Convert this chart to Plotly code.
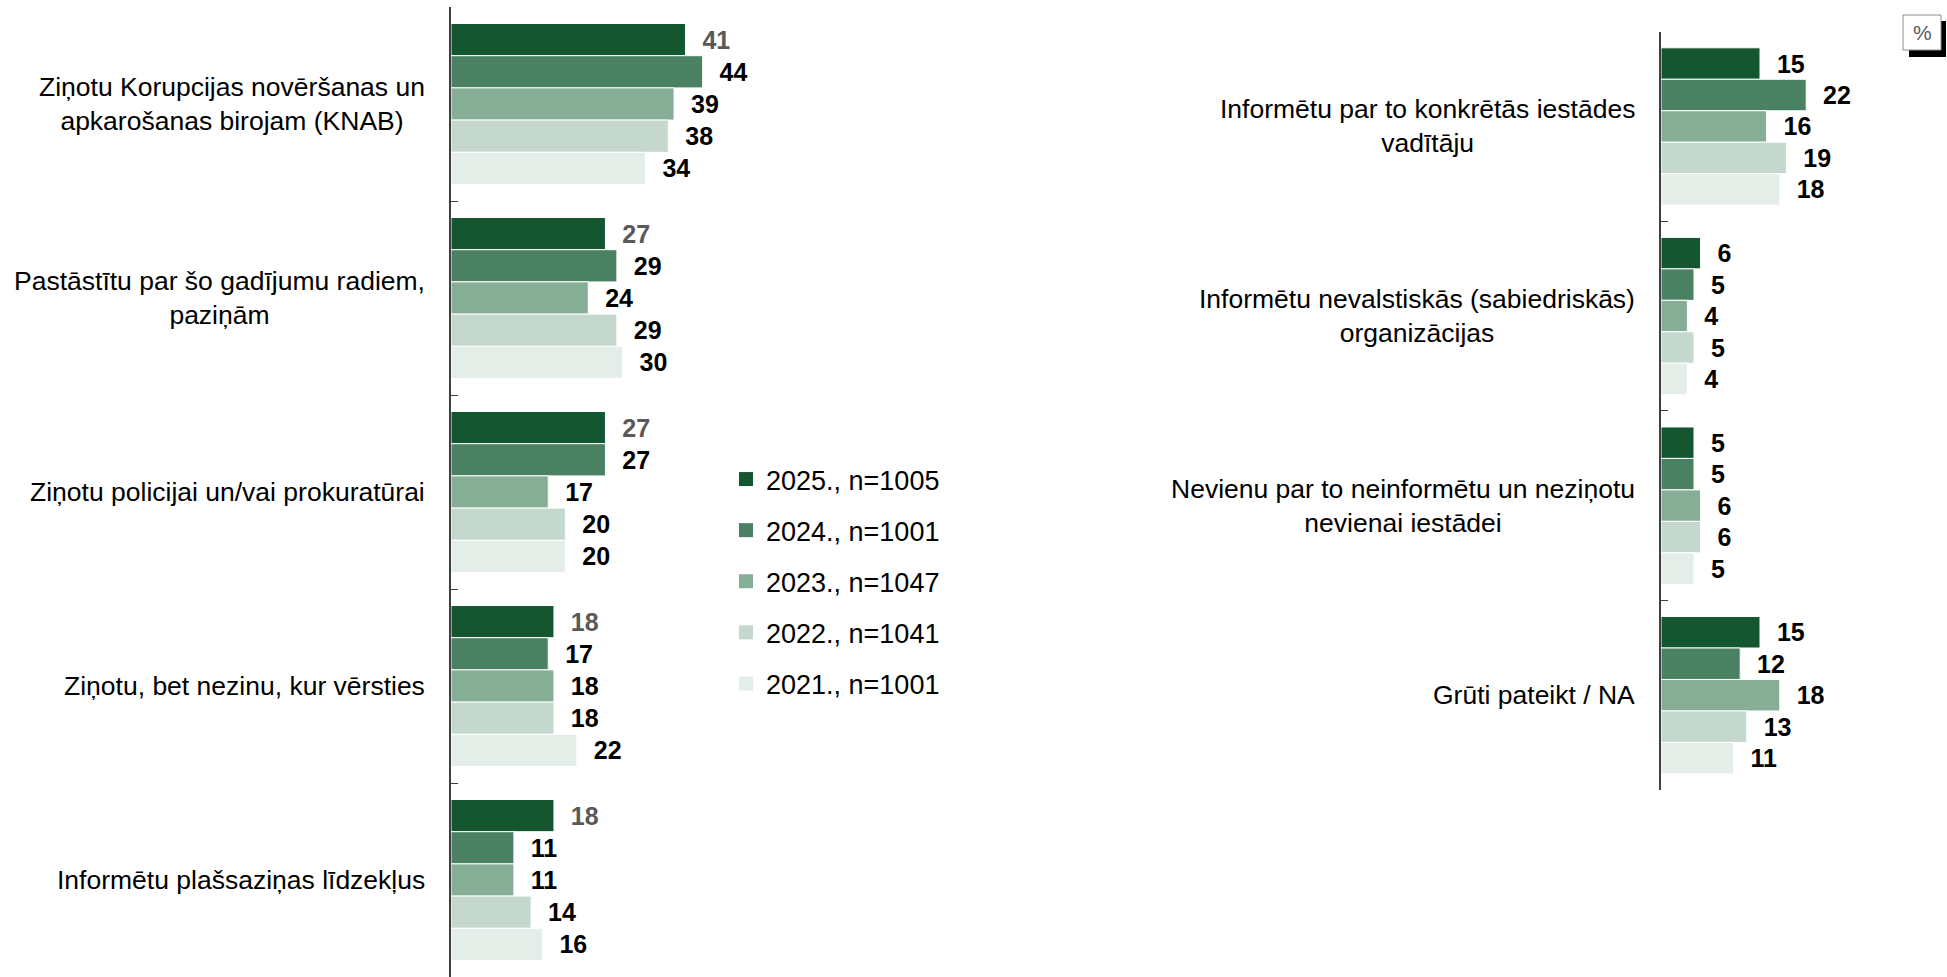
import plotly.graph_objects as go

W, H = 1947, 977

years = ["2025., n=1005", "2024., n=1001", "2023., n=1047", "2022., n=1041", "2021., n=1001"]
colors = ["#13562F", "#4B8163", "#86AD96", "#C4D8CD", "#E4EDE8"]

cats_left = [
    "Ziņotu Korupcijas novēršanas un apkarošanas birojam (KNAB)",
    "Pastāstītu par šo gadījumu radiem, paziņām",
    "Ziņotu policijai un/vai prokuratūrai",
    "Ziņotu, bet nezinu, kur vērsties",
    "Informētu plašsaziņas līdzekļus",
]
labels_left = [
    "Ziņotu Korupcijas novēršanas un<br>apkarošanas birojam (KNAB)",
    "Pastāstītu par šo gadījumu radiem,<br>paziņām",
    "Ziņotu policijai un/vai prokuratūrai",
    "Ziņotu, bet nezinu, kur vērsties",
    "Informētu plašsaziņas līdzekļus",
]
vals_left = {
    "2025., n=1005": [41, 27, 27, 18, 18],
    "2024., n=1001": [44, 29, 27, 17, 11],
    "2023., n=1047": [39, 24, 17, 18, 11],
    "2022., n=1041": [38, 29, 20, 18, 14],
    "2021., n=1001": [34, 30, 20, 22, 16],
}

cats_right = [
    "Informētu par to konkrētās iestādes vadītāju",
    "Informētu nevalstiskās (sabiedriskās) organizācijas",
    "Nevienu par to neinformētu un neziņotu nevienai iestādei",
    "Grūti pateikt / NA",
]
labels_right = [
    "Informētu par to konkrētās iestādes<br>vadītāju",
    "Informētu nevalstiskās (sabiedriskās)<br>organizācijas",
    "Nevienu par to neinformētu un neziņotu<br>nevienai iestādei",
    "Grūti pateikt / NA",
]
vals_right = {
    "2025., n=1005": [15, 6, 5, 15],
    "2024., n=1001": [22, 5, 5, 12],
    "2023., n=1047": [16, 4, 6, 18],
    "2022., n=1041": [19, 5, 6, 13],
    "2021., n=1001": [18, 4, 5, 11],
}

FONT = "Liberation Sans, Arial, sans-serif"
PAD = "\u00a0\u00a0"

fig = go.Figure()
for i, (yr, col) in enumerate(zip(years, colors)):
    lcol = "#595959" if i == 0 else "#000000"
    fig.add_trace(go.Bar(
        y=cats_left, x=vals_left[yr], orientation="h", name=yr,
        marker=dict(color=col, line=dict(color="white", width=1)),
        text=[PAD + str(v) for v in vals_left[yr]], textposition="outside",
        textfont=dict(family=FONT, size=25, color=lcol, weight="bold"),
        constraintext="none", cliponaxis=False,
        legendgroup=yr, showlegend=False, xaxis="x", yaxis="y",
    ))
    fig.add_trace(go.Bar(
        y=cats_right, x=vals_right[yr], orientation="h", name=yr,
        marker=dict(color=col, line=dict(color="white", width=1)),
        text=[PAD + str(v) for v in vals_right[yr]], textposition="outside",
        textfont=dict(family=FONT, size=25, color="#000000", weight="bold"),
        constraintext="none", cliponaxis=False,
        legendgroup=yr, showlegend=False, xaxis="x2", yaxis="y2",
    ))
    # legend entry with a larger square swatch
    fig.add_trace(go.Scatter(
        x=[None], y=[None], mode="markers", name=yr,
        marker=dict(symbol="square", size=14, color=col),
        legendgroup=yr, showlegend=True, xaxis="x", yaxis="y",
    ))

xl0, xl1 = 451 / W, (451 + 5.72 * 60) / W
xr0, xr1 = 1661 / W, (1661 + 6.6 * 40) / W
yl0, yl1 = 0.0, 1 - 7 / H
yr0, yr1 = 1 - 790 / H, 1 - 31.7 / H

axis_common = dict(showgrid=False, zeroline=False, showticklabels=False, ticks="")
yaxis_common = dict(type="category", autorange="reversed", showline=True, linecolor="#404040",
                    linewidth=1.5, ticks="inside", tickson="boundaries", ticklen=7,
                    tickcolor="#404040", showticklabels=False, showgrid=False, zeroline=False)

LBL = 26.5
annotations = []
for c, lab in zip(cats_left, labels_left):
    annotations.append(dict(x=xl0, xref="paper", y=c, yref="y", text=lab, showarrow=False,
                            xanchor="right", yanchor="middle", align="center", xshift=-24,
                            font=dict(family=FONT, size=LBL, color="#000000")))
for c, lab in zip(cats_right, labels_right):
    annotations.append(dict(x=xr0, xref="paper", y=c, yref="y2", text=lab, showarrow=False,
                            xanchor="right", yanchor="middle", align="center", xshift=-24,
                            font=dict(family=FONT, size=LBL, color="#000000")))
annotations.append(dict(x=(1903 + 1941) / 2 / W, y=1 - 32.5 / H, xref="paper", yref="paper",
                        text="%", showarrow=False, xanchor="center", yanchor="middle",
                        font=dict(family=FONT, size=21, color="#595959")))

shapes = [
    dict(type="rect", xref="paper", yref="paper", x0=1909 / W, x1=1946 / W, y0=1 - 57 / H, y1=1 - 21 / H,
         fillcolor="black", line=dict(width=0)),
    dict(type="rect", xref="paper", yref="paper", x0=1903 / W, x1=1941 / W, y0=1 - 50 / H, y1=1 - 15 / H,
         fillcolor="white", line=dict(color="#8c8c8c", width=1)),
]

fig.update_layout(
    width=W, height=H, margin=dict(l=0, r=0, t=0, b=0),
    paper_bgcolor="white", plot_bgcolor="white",
    barmode="group", bargap=0.17, bargroupgap=0,
    font=dict(family=FONT, size=24, color="#000000"),
    xaxis=dict(domain=[xl0, xl1], range=[0, 60], anchor="y", **axis_common),
    yaxis=dict(domain=[yl0, yl1], anchor="x", **yaxis_common),
    xaxis2=dict(domain=[xr0, xr1], range=[0, 40], anchor="y2", **axis_common),
    yaxis2=dict(domain=[yr0, yr1], anchor="x2", **yaxis_common),
    legend=dict(x=726 / W, y=1 - 455 / H, xanchor="left", yanchor="top",
                traceorder="grouped", tracegroupgap=13, itemwidth=30,
                font=dict(family=FONT, size=27, color="#000000"), bgcolor="rgba(0,0,0,0)"),
    annotations=annotations, shapes=shapes, showlegend=True,
)

fig.write_html("out.html", config={"displayModeBar": False},
               post_script="document.body.style.margin='0';document.body.style.overflow='hidden';")
